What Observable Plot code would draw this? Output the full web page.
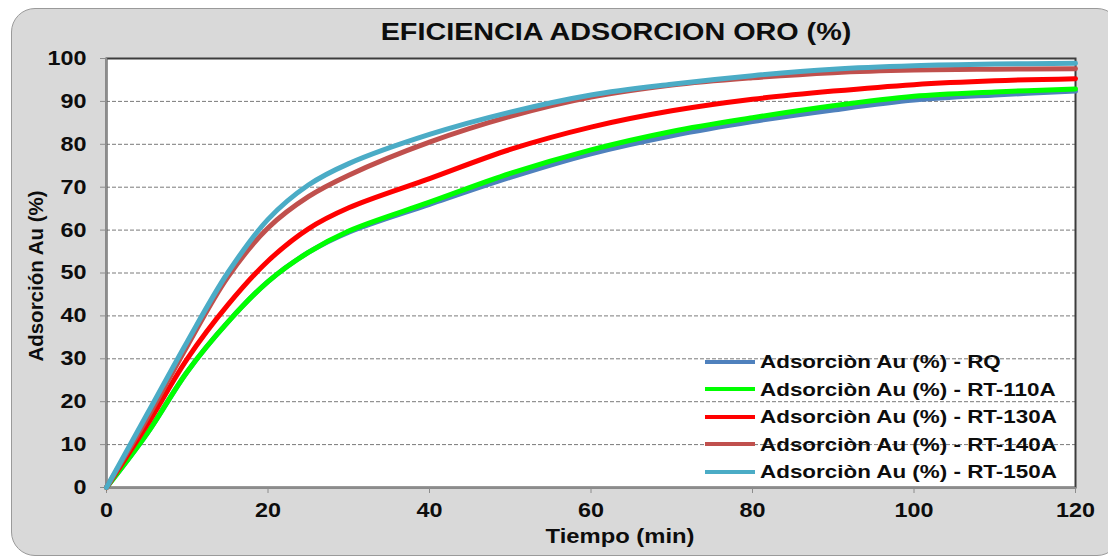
<!DOCTYPE html>
<html>
<head>
<meta charset="utf-8">
<script src="https://cdn.jsdelivr.net/npm/d3@7"></script>
<script src="https://cdn.jsdelivr.net/npm/@observablehq/plot@0.6"></script>
<style>
  body { margin: 0; background: #ffffff; width: 1108px; height: 558px; overflow: hidden; position: relative;
         font-family: "Liberation Sans", Arial, sans-serif; color: #0d0d0d; }
  #panel { position: absolute; left: 11px; top: 8px; width: 1110px; height: 548px; box-sizing: border-box;
           background: #d9d9d9; border: 1.5px solid #9a9a9a; border-radius: 24px; }
  #chart { position: absolute; left: 0; top: 0; }
  .title { position: absolute; left: 616px; top: 21px; font-size: 23px; line-height: 23px; font-weight: bold;
           white-space: nowrap; transform: translateX(-50%) scaleX(1.25); }
  .xtitle { position: absolute; left: 620px; top: 527px; font-size: 19.5px; line-height: 19.5px; font-weight: bold;
            white-space: nowrap; transform: translateX(-50%) scaleX(1.22); }
  .ytitle { position: absolute; left: 36px; top: 276px; font-size: 20.5px; line-height: 20.5px; font-weight: bold;
            white-space: nowrap; transform: translate(-50%, -50%) rotate(-90deg); }
  .legend { position: absolute; left: 705px; top: 352px; }
  .legend .row { position: absolute; left: 0; height: 19px; white-space: nowrap; }
  .legend .sw { position: absolute; left: 0; top: 7.5px; width: 50px; height: 4px; }
  .legend .lab { position: absolute; left: 55px; top: 0; font-size: 19px; line-height: 19px; font-weight: bold;
                 transform-origin: left center; transform: scaleX(1.18); }
</style>
</head>
<body>
<div id="panel"></div>
<div id="chart"></div>
<div class="title" id="title"></div>
<div class="xtitle" id="xtitle"></div>
<div class="ytitle" id="ytitle"></div>
<div class="legend" id="legend"></div>
<script>
// Sampling times (min)
const tiempo = [0, 5, 10, 15, 20, 25, 30, 40, 50, 60, 70, 80, 90, 100, 110, 120];

// Gold adsorption (%) per carbon
const rq     = [0, 12.5, 27, 38.5, 48, 54.8, 59.5, 66, 72.3, 77.8, 82, 85.3, 88, 90.3, 91.5, 92.4];
const rt110a = [0, 12.5, 27, 38.5, 48, 54.8, 59.8, 66.5, 73.2, 78.7, 83, 86.2, 89, 91.2, 92.2, 92.9];
const rt130a = [0, 14.5, 30, 42.5, 52.8, 60.3, 65.2, 72, 78.8, 84, 87.8, 90.5, 92.4, 93.9, 94.8, 95.3];
const rt140a = [0, 16, 33, 49, 60.5, 67.8, 72.8, 80.5, 86.5, 91, 93.8, 95.5, 96.7, 97.3, 97.5, 97.6];
const rt150a = [0, 17, 34, 50, 62.5, 70.5, 75.5, 82.3, 87.5, 91.5, 94, 96, 97.5, 98.3, 98.7, 98.9];

const seriesNames = [
  "Adsorciòn Au (%) - RQ",
  "Adsorciòn Au (%) - RT-110A",
  "Adsorciòn Au (%) - RT-130A",
  "Adsorciòn Au (%) - RT-140A",
  "Adsorciòn Au (%) - RT-150A"
];
const seriesValues = [rq, rt110a, rt130a, rt140a, rt150a];

const xTicks = [0, 20, 40, 60, 80, 100, 120];
const yTicks = [0, 10, 20, 30, 40, 50, 60, 70, 80, 90, 100];
const gridLevels = [10, 20, 30, 40, 50, 60, 70, 80, 90];

const chartTitle = "EFICIENCIA ADSORCION ORO (%)";
const xLabel = "Tiempo (min)";
const yLabel = "Adsorción Au (%)";

// Line colours, in series order
const palette = ["#4f81bd", "#00ff00", "#ff0000", "#c0504d", "#4bacc6"];

const rows = seriesNames.flatMap((name, k) =>
  tiempo.map((t, i) => ({serie: name, t, v: seriesValues[k][i]}))
);

const lines = seriesNames.map((name, k) =>
  Plot.line(rows.filter(d => d.serie === name), {
    x: "t", y: "v", stroke: palette[k], strokeWidth: 5, curve: "catmull-rom"
  })
);

const chart = Plot.plot({
  width: 1108,
  height: 558,
  marginLeft: 106,
  marginRight: 33,
  marginTop: 58,
  marginBottom: 71,
  style: {background: "transparent", fontFamily: "'Liberation Sans', Arial, sans-serif",
          fontSize: "20px", fontWeight: "bold", color: "#0d0d0d", overflow: "visible"},
  x: {domain: [0, 120], label: null},
  y: {domain: [0, 100], label: null},
  marks: [
    Plot.frame({fill: "white", stroke: "none"}),
    Plot.gridY(gridLevels, {stroke: "#7a7a7a", strokeOpacity: 1, strokeDasharray: "4,2"}),
    Plot.frame({stroke: "#3c3c3c", strokeWidth: 2}),
    Plot.ruleX([0], {stroke: "#8c8c8c", strokeWidth: 1.5}),
    Plot.ruleY([0], {stroke: "#8c8c8c", strokeWidth: 1.5}),
    Plot.axisX({ticks: xTicks, tickSize: 6, tickPadding: 9, stroke: "#8c8c8c", fill: "#0d0d0d", label: null}),
    Plot.axisY({ticks: yTicks, tickSize: 6, tickPadding: 14, stroke: "#8c8c8c", fill: "#0d0d0d", label: null}),
    ...lines
  ]
});
document.getElementById("chart").appendChild(chart);

// Widen the tick labels slightly, as in the original chart's typeface
chart.querySelectorAll("text").forEach(t => {
  const w = t.getComputedTextLength();
  if (w > 0) {
    t.setAttribute("textLength", (w * 1.17).toFixed(1));
    t.setAttribute("lengthAdjust", "spacingAndGlyphs");
  }
});

document.getElementById("title").textContent = chartTitle;
document.getElementById("xtitle").textContent = xLabel;
document.getElementById("ytitle").textContent = yLabel;

// Legend inside the plot area
const legend = document.getElementById("legend");
seriesNames.forEach((name, k) => {
  const row = document.createElement("div");
  row.className = "row";
  row.style.top = (k * 27.5) + "px";
  const sw = document.createElement("span");
  sw.className = "sw";
  sw.style.background = palette[k];
  const lab = document.createElement("span");
  lab.className = "lab";
  lab.textContent = name;
  row.appendChild(sw);
  row.appendChild(lab);
  legend.appendChild(row);
});
</script>
</body>
</html>
